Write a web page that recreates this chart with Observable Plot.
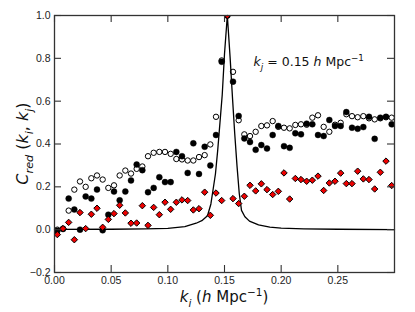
<!DOCTYPE html>
<html><head><meta charset="utf-8">
<script src="https://cdn.jsdelivr.net/npm/d3@7"></script>
<script src="https://cdn.jsdelivr.net/npm/@observablehq/plot@0.6"></script>
<style>body{margin:0;background:#fff}</style>
</head><body><div id="chart"></div>
<script>
// k_i sample positions (h Mpc^-1)
const kValues = [0.0025,0.0075,0.0125,0.0175,0.0225,0.0275,0.0325,0.0375,0.0425,0.0475,
0.0525,0.0575,0.0625,0.0675,0.0725,0.0775,0.0825,0.0875,0.0925,0.0975,
0.1025,0.1075,0.1125,0.1175,0.1225,0.1275,0.1325,0.1375,0.1425,0.1475,
0.1525,0.1575,0.1625,0.1675,0.1725,0.1775,0.1825,0.1875,0.1925,0.1975,
0.2025,0.2075,0.2125,0.2175,0.2225,0.2275,0.2325,0.2375,0.2425,0.2475,
0.2525,0.2575,0.2625,0.2675,0.2725,0.2775,0.2825,0.2875,0.2925,0.2975];
// open circles
const openVals = [0.0,0.005,0.089,0.187,0.225,0.2,0.24,0.253,0.234,0.195,
0.207,0.253,0.276,0.262,0.284,0.295,0.343,0.359,0.363,0.363,
0.354,0.33,0.328,0.323,0.323,0.339,0.348,0.398,0.527,0.79,
1.0,0.737,0.511,0.445,0.437,0.457,0.484,0.487,0.507,0.48,
0.476,0.473,0.489,0.492,0.49,0.523,0.534,0.48,0.457,0.49,
0.499,0.539,0.53,0.525,0.53,0.52,0.515,0.52,0.525,0.523];
// filled circles
const filledVals = [-0.005,0.003,0.145,0.094,0.0,0.155,0.145,0.187,-0.003,0.07,
0.178,0.137,0.178,0.23,0.304,0.278,0.175,0.195,0.245,0.222,
0.222,0.363,0.343,0.265,0.403,0.26,0.387,0.3,0.442,0.784,
1.0,0.691,0.531,0.426,0.409,0.373,0.395,0.379,0.442,0.484,
0.39,0.382,0.45,0.445,0.495,0.492,0.442,0.437,0.512,0.484,
0.484,0.549,0.476,0.471,0.479,0.527,0.424,0.523,0.527,0.492];
// red diamonds
const redVals = [-0.023,0.005,0.034,-0.047,0.08,0.005,0.072,0.1,0.011,0.048,
0.075,0.114,0.078,0.03,0.031,0.112,0.02,0.104,0.07,0.128,
0.095,0.128,0.139,0.136,0.092,0.098,0.175,0.067,0.171,0.136,
1.0,0.145,0.122,0.156,0.207,0.181,0.214,0.187,0.164,0.179,
0.265,0.143,0.239,0.234,0.226,0.231,0.25,0.183,0.218,0.226,
0.264,0.215,0.215,0.273,0.237,0.234,0.19,0.268,0.32,0.206];
// solid curve
const lineK = [0.0,0.05,0.08,0.1,0.115,0.125,0.13,0.135,0.138,0.14,0.142,0.144,0.146,0.148,0.15,0.1525,
0.155,0.157,0.159,0.161,0.163,0.165,0.168,0.172,0.18,0.19,0.2,0.22,0.25,0.3];
const lineC = [0.001,0.002,0.004,0.006,0.014,0.03,0.042,0.065,0.12,0.19,0.26,0.37,0.5,0.63,0.82,1.0,
0.8,0.62,0.45,0.3,0.17,0.09,0.06,0.04,0.022,0.012,0.007,0.004,0.002,0.0];
const xTicks = [0.0,0.05,0.10,0.15,0.20,0.25];
const yTicks = [-0.2,0.0,0.2,0.4,0.6,0.8,1.0];

const rows = kValues.map((k,i)=>({k, open:openVals[i], filled:filledVals[i], red:redVals[i]}));
const lineData = lineK.map((k,i)=>({k, c:lineC[i]}));

const W = 415, H = 312, mL = 54, mR = 21, mT = 15, mB = 40, TL = 7;
const fw = W - mL - mR, fh = H - mT - mB;

const plot = Plot.plot({
  width: W, height: H,
  marginLeft: mL, marginRight: mR, marginTop: mT, marginBottom: mB,
  style: {fontFamily: "'Liberation Sans', Arial, sans-serif", fontSize: "10.5px", color: "#222", background: "#fff"},
  x: {domain: [0, 0.3], label: null},
  y: {domain: [-0.2, 1.0], label: null},
  marks: [
    Plot.line(lineData, {x:"k", y:"c", stroke:"black", strokeWidth:1.3}),
    Plot.dot(rows, {x:"k", y:"open", r:2.7, stroke:"black", strokeWidth:1, fill:"none", clip:true}),
    Plot.dot(rows, {x:"k", y:"filled", r:3.0, fill:"black", stroke:"black", strokeWidth:0.4, clip:true}),
    Plot.dot(rows, {x:"k", y:"red", symbol:"diamond2", r:2.9, fill:"#ee0000", stroke:"black", strokeWidth:1, clip:true}),
    Plot.frame({stroke:"#333", strokeWidth:1.3}),
    // inward ticks
    Plot.ruleX(xTicks, {x: d=>d, insetTop: fh - TL, stroke:"#333", strokeWidth:1.1}),
    Plot.ruleX(xTicks, {x: d=>d, insetBottom: fh - TL, stroke:"#333", strokeWidth:1.1}),
    Plot.ruleY(yTicks, {y: d=>d, insetRight: fw - TL, stroke:"#333", strokeWidth:1.1}),
    Plot.ruleY(yTicks, {y: d=>d, insetLeft: fw - TL, stroke:"#333", strokeWidth:1.1}),
    Plot.axisX(xTicks, {anchor:"bottom", tickSize:0, tickPadding:4, tickFormat: d3.format(".2f"), label:null}),
    Plot.axisY(yTicks, {anchor:"left", tickSize:0, tickPadding:4, tickFormat: d3.format(".1f"), label:null})
  ]
});

const NS = "http://www.w3.org/2000/svg";
function addText(attrs, parts, size) {
  const t = document.createElementNS(NS, "text");
  for (const [a,v] of Object.entries(attrs)) t.setAttribute(a, v);
  t.setAttribute("font-family", "'DejaVu Sans', sans-serif");
  t.setAttribute("font-size", size);
  t.setAttribute("fill", "#111");
  let shift = 0;
  for (const p of parts) {
    const s = document.createElementNS(NS, "tspan");
    s.textContent = p.t;
    if (p.i) s.setAttribute("font-style", "italic");
    let target = 0;
    if (p.sub) target = size*0.3;
    if (p.sup) target = -size*0.4;
    if (p.sub || p.sup) s.setAttribute("font-size", size*0.7);
    if (target !== shift) { s.setAttribute("dy", target - shift); shift = target; }
    t.appendChild(s);
  }
  plot.appendChild(t);
  return t;
}
const sx = plot.scale("x"), sy = plot.scale("y");
const cx = (sx.range[0]+sx.range[1])/2, cy = (sy.range[0]+sy.range[1])/2;
// y label
addText({x: 0, y: 0, transform: `translate(28,${cy}) rotate(-90)`, "text-anchor":"middle"},
  [{t:"C",i:1},{t:"red",i:1,sub:1},{t:" ("},{t:"k",i:1},{t:"i",i:1,sub:1},{t:", "},{t:"k",i:1},{t:"j",i:1,sub:1},{t:")"}], 16);
// x label
addText({x: cx, y: 302, "text-anchor":"middle"},
  [{t:"k",i:1},{t:"i",i:1,sub:1},{t:" ("},{t:"h",i:1},{t:" Mpc"},{t:"−1",sup:1},{t:")"}], 15);
// annotation
addText({x: sx.apply(0.2248), y: sy.apply(0.76), "text-anchor":"middle"},
  [{t:"k",i:1},{t:"j",i:1,sub:1},{t:" = 0.15 "},{t:"h",i:1},{t:" Mpc"},{t:"−1",sup:1}], 12.5);

document.getElementById("chart").appendChild(plot);
</script>
</body></html>
